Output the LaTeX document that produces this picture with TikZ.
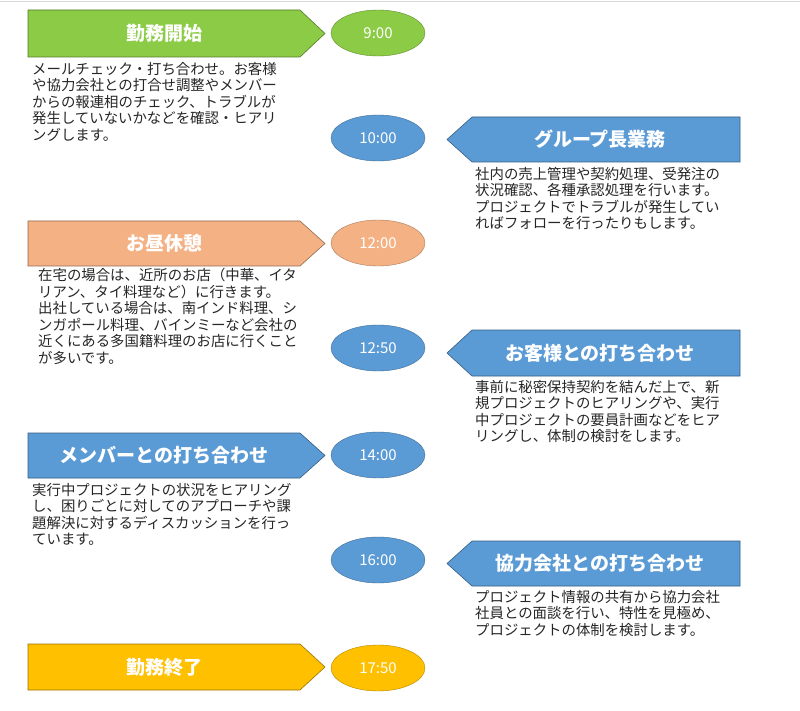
\documentclass[tikz,border=0pt]{standalone}
\usepackage{fontspec}
\setmainfont{Noto Sans CJK JP}
\usetikzlibrary{shapes.geometric}
\definecolor{cgreen}{HTML}{8CCB45}
\definecolor{cblue}{HTML}{5B9BD5}
\definecolor{corange}{HTML}{F4B183}
\definecolor{cgold}{HTML}{FFC000}
\tikzset{
 body/.style={anchor=north west,align=left,inner sep=0pt,font=\fontsize{14.4}{16.5}\selectfont,text=black!85},
 tm/.style={ellipse,minimum width=94pt,minimum height=46pt,inner sep=0pt,draw=#1!70!black,fill=#1,text=white,font=\fontsize{15}{18}\selectfont},
 head/.style={text=white,font=\bfseries\fontsize{19}{22}\selectfont},
}
\newcommand{\larrow}[5]{% y_top, y_bot, color, name, label
 \fill[#3,draw=#3!60!black,line width=0.6pt] (28,#1) -- (300,#1) -- (325,{(#1+#2)/2}) -- (300,#2) -- (28,#2) -- cycle;
 \node[head] (#4) at (164,{(#1+#2)/2}) {#5};}
\newcommand{\rarrow}[4]{% y_top, y_bot, name, label
 \fill[cblue,draw=cblue!60!black,line width=0.6pt] (740,#1) -- (472,#1) -- (447,{(#1+#2)/2}) -- (472,#2) -- (740,#2) -- cycle;
 \node[head] (#3) at (600,{(#1+#2)/2}) {#4};}
\begin{document}
\begin{tikzpicture}[x=1pt,y=-1pt]
\useasboundingbox (0,0) rectangle (800,711);
\fill[white] (0,0) rectangle (800,711);
\draw[black!15] (0,1.5) -- (800,1.5);
\larrow{10}{57}{cgreen}{h1}{勤務開始}
\node[tm=cgreen] (t1) at (378,33) {9:00};
\node[body] (b1) at (32,62) {メールチェック・打ち合わせ。お客様\\や協力会社との打合せ調整やメンバー\\からの報連相のチェック、トラブルが\\発生していないかなどを確認・ヒアリ\\ングします。};
\node[tm=cblue] (t2) at (378,138) {10:00};
\rarrow{117}{162}{h2}{グループ長業務}
\node[body] (b2) at (475,167) {社内の売上管理や契約処理、受発注の\\状況確認、各種承認処理を行います。\\プロジェクトでトラブルが発生してい\\ればフォローを行ったりもします。};
\larrow{221}{266}{corange}{h3}{お昼休憩}
\node[tm=corange] (t3) at (378,243) {12:00};
\node[body] (b3) at (38,268) {在宅の場合は、近所のお店（中華、イタ\\リアン、タイ料理など）に行きます。\\出社している場合は、南インド料理、シ\\ンガポール料理、バインミーなど会社の\\近くにある多国籍料理のお店に行くこと\\が多いです。};
\node[tm=cblue] (t4) at (378,348) {12:50};
\rarrow{330}{376}{h4}{お客様との打ち合わせ}
\node[body] (b4) at (475,380) {事前に秘密保持契約を結んだ上で、新\\規プロジェクトのヒアリングや、実行\\中プロジェクトの要員計画などをヒア\\リングし、体制の検討をします。};
\larrow{433}{478}{cblue}{h5}{メンバーとの打ち合わせ}
\node[tm=cblue] (t5) at (378,455) {14:00};
\node[body] (b5) at (32,483) {実行中プロジェクトの状況をヒアリング\\し、困りごとに対してのアプローチや課\\題解決に対するディスカッションを行っ\\ています。};
\node[tm=cblue] (t6) at (378,560) {16:00};
\rarrow{541}{586}{h6}{協力会社との打ち合わせ}
\node[body] (b6) at (475,590) {プロジェクト情報の共有から協力会社\\社員との面談を行い、特性を見極め、\\プロジェクトの体制を検討します。};
\larrow{644}{690}{cgold}{h7}{勤務終了}
\node[tm=cgold] (t7) at (378,668) {17:50};
\end{tikzpicture}
\end{document}
